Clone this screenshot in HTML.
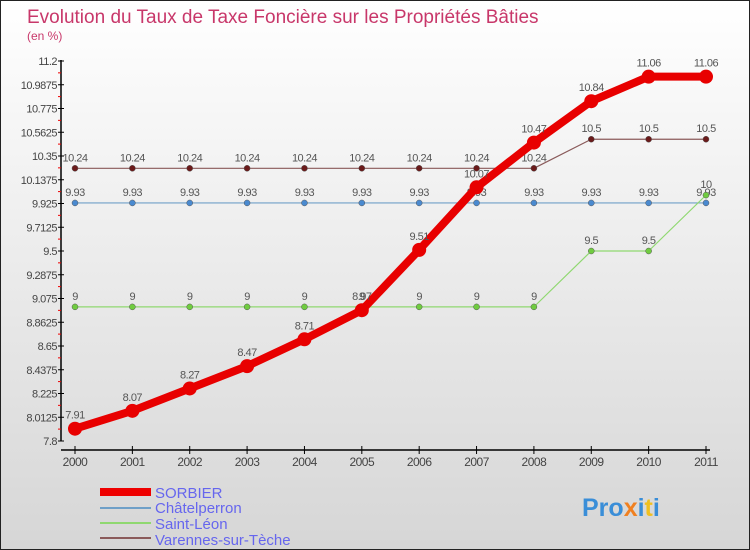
<!DOCTYPE html>
<html><head><meta charset="utf-8"><style>
body{margin:0}
#c{width:750px;height:550px;position:relative;overflow:hidden;font-family:"Liberation Sans",sans-serif}
</style></head><body>
<div id="c">
<svg id="s" width="750" height="550" xmlns="http://www.w3.org/2000/svg">
<defs><linearGradient id="bg" x1="0" y1="0" x2="0" y2="1"><stop offset="0" stop-color="#ffffff"/><stop offset="1" stop-color="#d6d6d6"/></linearGradient></defs>
<rect x="0.5" y="0.5" width="749" height="549" fill="url(#bg)" stroke="#222"/>
<text x="27" y="23" font-size="19" fill="#c8376a">Evolution du Taux de Taxe Foncière sur les Propriétés Bâties</text>
<text x="27" y="40" font-size="12" fill="#c8376a">(en %)</text>
<g id="axes"></g>
<g id="series"></g>
<g>
<rect x="100" y="488" width="51" height="8" fill="#e00"/>
<text x="155" y="498" font-size="15" fill="#6666ee">SORBIER</text>
<line x1="100" y1="508" x2="151" y2="508" stroke="#6fa0c8" stroke-width="2"/>
<text x="155" y="513" font-size="15" fill="#6666ee">Châtelperron</text>
<line x1="100" y1="523" x2="151" y2="523" stroke="#8fd870" stroke-width="2"/>
<text x="155" y="529" font-size="15" fill="#6666ee">Saint-Léon</text>
<line x1="100" y1="538" x2="151" y2="538" stroke="#8a5a5a" stroke-width="2"/>
<text x="155" y="545" font-size="15" fill="#6666ee">Varennes-sur-Tèche</text>
</g>
<text x="582" y="516" font-size="25" font-weight="bold" fill="#3a8ed8">Pro<tspan fill="#f08020">x</tspan>i<tspan fill="#f0c020">t</tspan>i</text>
</svg>
</div>
<script>
const years=[2000,2001,2002,2003,2004,2005,2006,2007,2008,2009,2010,2011];
const yTicks=["7.8","8.0125","8.225","8.4375","8.65","8.8625","9.075","9.2875","9.5","9.7125","9.925","10.1375","10.35","10.5625","10.775","10.9875","11.2"];
const sorbier=[7.91,8.07,8.27,8.47,8.71,8.97,9.51,10.07,10.47,10.84,11.06,11.06];
const chatelperron=[9.93,9.93,9.93,9.93,9.93,9.93,9.93,9.93,9.93,9.93,9.93,9.93];
const saintLeon=[9,9,9,9,9,9,9,9,9,9.5,9.5,10];
const varennes=[10.24,10.24,10.24,10.24,10.24,10.24,10.24,10.24,10.24,10.5,10.5,10.5];
const NS="http://www.w3.org/2000/svg";
const yMin=7.8,yMax=11.2;
function X(i){return 75+i*(631/11);}
function Y(v){return 441-(v-yMin)/(yMax-yMin)*380;}
function mk(p,tag,a){const e=document.createElementNS(NS,tag);for(const k in a)e.setAttribute(k,a[k]);p.appendChild(e);return e;}
const ax=document.getElementById('axes');
let e=mk(ax,'line',{x1:61,y1:60,x2:61,y2:441,stroke:'#000','stroke-width':1.5});


e=mk(ax,'line',{x1:61,y1:450,x2:710,y2:450,stroke:'#000','stroke-width':1.5});


yTicks.forEach((t,i)=>{const v=parseFloat(t),y=Y(v);
 mk(ax,'line',{x1:58,y1:y,x2:64,y2:y,stroke:'#000'});
 if(i<yTicks.length-1)mk(ax,'line',{x1:58,y1:y-11.9,x2:61,y2:y-11.9,stroke:'#e00'});
 const tx=mk(ax,'text',{x:57,y:y+4,'font-size':11,fill:'#444','text-anchor':'end','letter-spacing':'-0.5'});tx.textContent=t;
 
 
});
years.forEach((yr,i)=>{const x=X(i);
 mk(ax,'line',{x1:x,y1:446,x2:x,y2:454,stroke:'#000'});
 const tx=mk(ax,'text',{x:x,y:466,'font-size':12,fill:'#444','text-anchor':'middle','letter-spacing':'-0.5'});tx.textContent=yr;
 
 
});
const sg=document.getElementById('series');
function draw(data,name,color,dot,w,r,fmt){
 const g=mk(sg,'g',{});
 
 
 mk(g,'polyline',{points:data.map((v,i)=>X(i)+','+Y(v)).join(' '),fill:'none',stroke:color,'stroke-width':w,'stroke-linejoin':'round'});
 data.forEach((v,i)=>{const c=mk(g,'circle',{cx:X(i),cy:Y(v),r:r,fill:dot,stroke:w>3?'none':'#555','stroke-width':0.5});
  
  
  const t=mk(g,'text',{x:X(i),y:Y(v)-(w>3?10:7),'font-size':11,fill:'#555','text-anchor':'middle','letter-spacing':'-0.5'});t.textContent=String(v);
 });
}
draw(chatelperron,'series-chatelperron','#6fa0c8','#4a8ad0',1.2,3);
draw(saintLeon,'series-saint-leon','#8fd870','#70cc40',1.2,3);
draw(varennes,'series-varennes','#8a5a5a','#6a1a1a',1.2,3);
draw(sorbier,'series-sorbier','#e80000','#e80000',8,7);
</script>
</body></html>
